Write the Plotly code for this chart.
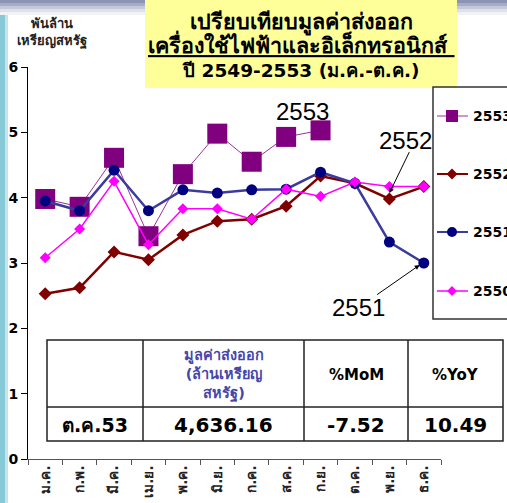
import plotly.graph_objects as go

# monthly export value, billion US$
months = ["ม.ค.", "ก.พ.", "มี.ค.", "เม.ย.", "พ.ค.", "มิ.ย.",
          "ก.ค.", "ส.ค.", "ก.ย.", "ต.ค.", "พ.ย.", "ธ.ค."]
y2553 = [3.98, 3.86, 4.61, 3.41, 4.36, 4.98, 4.55, 4.93, 5.03]
y2552 = [2.53, 2.62, 3.17, 3.05, 3.43, 3.64, 3.67, 3.87, 4.33, 4.22, 3.98, 4.17]
y2551 = [3.95, 3.80, 4.42, 3.80, 4.12, 4.07, 4.12, 4.13, 4.39, 4.22, 3.32, 3.00]
y2550 = [3.08, 3.52, 4.25, 3.28, 3.83, 3.83, 3.67, 4.13, 4.02, 4.24, 4.17, 4.17]

series_names = ["2553", "2552", "2551", "2550"]

table_header = ["", "มูลค่าส่งออก<br>(ล้านเหรียญ<br>สหรัฐ)", "%MoM", "%YoY"]
table_row = ["ต.ค.53", "4,636.16", "-7.52", "10.49"]

W, H = 507, 503
L, R, T, B = 28, 0, 67, 44
PW, PH = W - L - R, H - T - B
FONT = "Tahoma, 'DejaVu Sans', sans-serif"


def px(x):
    return (x - L) / PW


def py(y):
    return (H - B - y) / PH


def label(x, y, text, size, color="black", family=FONT, xanchor="center"):
    # text placed in page pixels
    fig.add_annotation(x=px(x), y=py(y), xref="paper", yref="paper", text=text,
                       showarrow=False, xanchor=xanchor, yanchor="middle",
                       font=dict(size=size, color=color, family=family))


# line/marker styles per series
styles = {
    "2553": dict(line=dict(color="#993399", width=1),
                 marker=dict(symbol="square", size=20, color="#800080")),
    "2552": dict(line=dict(color="#800000", width=2.5),
                 marker=dict(symbol="diamond", size=10, color="#800000")),
    "2551": dict(line=dict(color="#3b3b9e", width=2.5),
                 marker=dict(symbol="circle", size=11, color="#000080")),
    "2550": dict(line=dict(color="#ff00ff", width=1.5),
                 marker=dict(symbol="diamond", size=8.5, color="#ff00ff")),
}
data = {"2553": y2553, "2552": y2552, "2551": y2551, "2550": y2550}

fig = go.Figure()

for name in series_names:
    vals = data[name]
    fig.add_trace(go.Scatter(
        x=months[:len(vals)], y=vals, mode="lines+markers", name=name,
        line=styles[name]["line"], marker=styles[name]["marker"],
        showlegend=False,
    ))

# hand-made legend on a pixel-scaled overlay axis
legend_y = {"2553": 116, "2552": 174, "2551": 232, "2550": 291}
legend_marker_size = {"2553": 12, "2552": 8.5, "2551": 10, "2550": 7.5}
for name in series_names:
    ly = legend_y[name]
    st = styles[name]
    fig.add_trace(go.Scatter(
        x=[437, 452, 468], y=[ly, ly, ly], mode="lines",
        line=dict(color=st["line"]["color"], width=min(st["line"]["width"], 2)),
        xaxis="x2", yaxis="y2", showlegend=False, hoverinfo="skip",
    ))
    fig.add_trace(go.Scatter(
        x=[452], y=[ly], mode="markers",
        marker=dict(symbol=st["marker"]["symbol"], size=legend_marker_size[name],
                    color=st["marker"]["color"]),
        xaxis="x2", yaxis="y2", showlegend=False, hoverinfo="skip",
    ))
    label(471, ly, f"<b>{name}</b>", 14, xanchor="left")

shapes = []
# slide background: cyan strip on the left and grey band on top
shapes.append(dict(type="rect", xref="paper", yref="paper", x0=px(0), x1=px(5),
                   y0=py(H), y1=py(0), fillcolor="#86cad8", line_width=0, layer="below"))
shapes.append(dict(type="rect", xref="paper", yref="paper", x0=px(5), x1=px(8),
                   y0=py(H), y1=py(0), fillcolor="#c2e4ea", line_width=0, layer="below"))
for i, c in enumerate(["#8c94b4", "#a6acc6", "#c4c8da", "#dfe1ea", "#f1f2f6"]):
    shapes.append(dict(type="rect", xref="paper", yref="paper", x0=px(0), x1=px(W),
                       y0=py(3 * i + 3), y1=py(3 * i), fillcolor=c, line_width=0, layer="below"))
# title box
shapes.append(dict(type="rect", xref="paper", yref="paper", x0=px(145), x1=px(457),
                   y0=py(88), y1=py(0), fillcolor="#ffff99", line_width=0, layer="above"))
# legend box
shapes.append(dict(type="rect", xref="paper", yref="paper", x0=px(433), x1=px(520),
                   y0=py(319), y1=py(87), fillcolor="rgba(0,0,0,0)",
                   line=dict(color="#333333", width=1.5), layer="above"))
# table
cols = [47, 143, 304, 408, 503]
rows = [340, 407, 441]
shapes.append(dict(type="rect", xref="paper", yref="paper", x0=px(cols[0]), x1=px(cols[-1]),
                   y0=py(rows[2]), y1=py(rows[0]), fillcolor="white",
                   line=dict(color="#222222", width=1.5), layer="above"))
shapes.append(dict(type="line", xref="paper", yref="paper", x0=px(cols[0]), x1=px(cols[-1]),
                   y0=py(rows[1]), y1=py(rows[1]), line=dict(color="#222222", width=1.5),
                   layer="above"))
for c in cols[1:-1]:
    shapes.append(dict(type="line", xref="paper", yref="paper", x0=px(c), x1=px(c),
                       y0=py(rows[2]), y1=py(rows[0]), line=dict(color="#222222", width=1.5),
                       layer="above"))

for i in range(4):
    cx = (cols[i] + cols[i + 1]) / 2
    if table_header[i]:
        label(cx, 375, f"<b>{table_header[i]}</b>", 14.5 if i == 1 else 15,
              color="#4646a8" if i == 1 else "black")
    label(cx, 425, f"<b>{table_row[i]}</b>", 19 if i == 0 else 20)

# title
label(301, 45, "<b><span style='font-size:21.5px'>เปรียบเทียบมูลค่าส่งออก</span><br>"
               "<span style='font-size:21.5px'><u>เครื่องใช้ไฟฟ้าและอิเล็กทรอนิกส์ </u></span><br>"
               "ปี 2549-2553 (ม.ค.-ต.ค.)</b>", 18.5)

# y axis unit
label(52, 33, "<b>พันล้าน<br>เหรียญสหรัฐ</b>", 13, color="#222222")

# series labels with arrows
label(302, 111, "2553", 24, family="Liberation Sans")
label(405, 140, "2552", 24, family="Liberation Sans")
label(358, 307, "2551", 24, family="Liberation Sans")
fig.add_annotation(x=10, y=y2552[10] + 0.09, ax=10.6, ay=4.72, xref="x", yref="y",
                   axref="x", ayref="y", text="", showarrow=True, arrowhead=2,
                   arrowsize=1, arrowwidth=1, arrowcolor="black")
fig.add_annotation(x=10.88, y=y2551[11] - 0.03, ax=9.6, ay=2.5, xref="x", yref="y",
                   axref="x", ayref="y", text="", showarrow=True, arrowhead=2,
                   arrowsize=1, arrowwidth=1, arrowcolor="black")

fig.update_layout(
    width=W, height=H,
    margin=dict(l=L, r=R, t=T, b=B),
    paper_bgcolor="white", plot_bgcolor="rgba(0,0,0,0)",
    shapes=shapes,
    showlegend=False,
    xaxis=dict(domain=[0, px(441)], type="category", categoryorder="array",
               categoryarray=months, range=[-0.5, 11.5], showgrid=False, zeroline=False,
               showline=True, linecolor="#555555", linewidth=1, ticks="outside",
               ticklen=5, tickcolor="#555555", tickson="boundaries", tickangle=-90,
               automargin=False,
               tickfont=dict(size=13.5, color="#222222", family=FONT, weight="bold")),
    yaxis=dict(range=[0, 6], dtick=1, showgrid=False, zeroline=False, showline=True,
               linecolor="black", linewidth=1, ticks="outside", ticklen=6,
               tickcolor="black", automargin=False,
               tickfont=dict(size=14, color="black", family="DejaVu Sans", weight="bold")),
    xaxis2=dict(domain=[0, 1], range=[L, W], visible=False, fixedrange=True,
                automargin=False),
    yaxis2=dict(domain=[0, 1], range=[H - B, T], visible=False, fixedrange=True,
                anchor="x2", automargin=False),
)
fig.update_traces(selector=dict(xaxis="x2"), cliponaxis=False)

# drop the browser's default body margin so the figure sits at the page corner
fig.write_html("out.html", config={"displayModeBar": False},
               post_script="document.body.style.margin='0px';")
